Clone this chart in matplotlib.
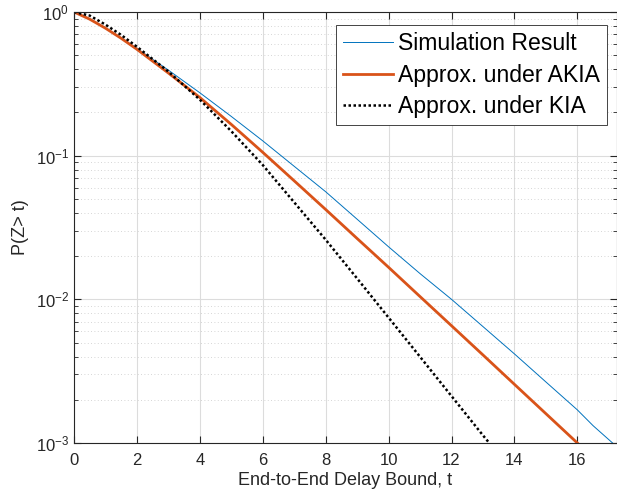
import matplotlib
matplotlib.use("Agg")
import matplotlib.pyplot as plt
from matplotlib.ticker import LogLocator, FixedLocator, NullFormatter

plt.rcParams['font.family'] = ['Liberation Sans', 'DejaVu Sans']
plt.rcParams['mathtext.fontset'] = 'custom'
plt.rcParams['mathtext.rm'] = 'Liberation Sans'
plt.rcParams['mathtext.it'] = 'Liberation Sans:italic'
plt.rcParams['mathtext.bf'] = 'Liberation Sans:bold'

# Simulation result
t_sim = [0, 0.5, 1, 1.5, 2, 3, 4, 5, 6, 7, 8, 9, 10, 11, 12, 13, 14, 15, 16, 16.5, 17.12]
p_sim = [1.0, 0.893, 0.776, 0.662, 0.558, 0.394, 0.274, 0.1875, 0.1268, 0.0843, 0.0561,
         0.0361, 0.0232, 0.0151, 0.0100, 0.00646, 0.00417, 0.00266, 0.00170, 0.00132,
         0.00100]

# Approx. under AKIA
t_akia = [0, 0.5, 1, 1.5, 2, 3, 4, 5, 6, 7, 8, 9, 10, 11, 12, 13, 14, 15, 16]
p_akia = [1.0, 0.891, 0.771, 0.656, 0.550, 0.376, 0.254, 0.1650, 0.1055, 0.0668,
          0.0422, 0.0265, 0.0167, 0.01045, 0.00655, 0.00410, 0.00256, 0.00160, 0.00100]

# Approx. under KIA
t_kia = [0, 0.5, 1, 1.5, 2, 2.5, 3, 4, 5, 6, 7, 8, 9, 10, 11, 12, 13, 13.2]
p_kia = [1.0, 0.944, 0.817, 0.692, 0.573, 0.470, 0.385, 0.2455, 0.148, 0.0861, 0.0473,
         0.0260, 0.01396, 0.00746, 0.00398, 0.00212, 0.00113, 0.00100]

labels = ['Simulation Result', 'Approx. under AKIA', 'Approx. under KIA']
x_ticks = [0, 2, 4, 6, 8, 10, 12, 14, 16]

fig = plt.figure(figsize=(6.17, 4.99), dpi=100)
ax = fig.add_axes([74/617, 56/499, 543/617, 431/499])

ax.plot(t_sim, p_sim, color='#0072BD', lw=0.7, label=labels[0])
ax.plot(t_akia, p_akia, color='#D95319', lw=2.0, label=labels[1])
ax.plot(t_kia, p_kia, color='black', lw=1.8, linestyle=(0, (1, 1)), label=labels[2])

ax.set_yscale('log')
ax.set_xlim(0, 17.26)
ax.set_ylim(1e-3, 1)
ax.xaxis.set_major_locator(FixedLocator(x_ticks))
ax.yaxis.set_major_locator(LogLocator(base=10, numticks=10))
ax.yaxis.set_minor_locator(LogLocator(base=10, subs=range(2, 10), numticks=20))
ax.yaxis.set_minor_formatter(NullFormatter())

ax.grid(True, which='major', color='#dcdcdc', lw=0.8, linestyle='-')
ax.grid(True, which='minor', axis='y', color='#c8c8c8', lw=0.6, linestyle=(0, (1, 3)))
ax.set_axisbelow(True)

axc = '#262626'
for s in ax.spines.values():
    s.set_color(axc)
    s.set_linewidth(0.8)
ax.tick_params(which='both', direction='in', top=True, right=True, colors=axc,
               labelsize=12, labelcolor=axc)
ax.tick_params(which='major', length=5, width=0.8)
ax.tick_params(which='minor', length=3, width=0.6)
ax.tick_params(axis='x', pad=7)

ax.set_xlabel('End-to-End Delay Bound, t', fontsize=13, color=axc, labelpad=3)
ax.set_ylabel('P(Z> t)', fontsize=13, color=axc, labelpad=5)

leg = ax.legend(loc='upper right', bbox_to_anchor=(0.9816, 0.970), borderaxespad=0,
                fontsize=16.6, frameon=True, fancybox=False, framealpha=1,
                handlelength=2.2, handletextpad=0.2, borderpad=0.3, labelspacing=0.38)
leg.get_frame().set_edgecolor(axc)
leg.get_frame().set_linewidth(0.6)

fig.savefig('out.png', dpi=100)
